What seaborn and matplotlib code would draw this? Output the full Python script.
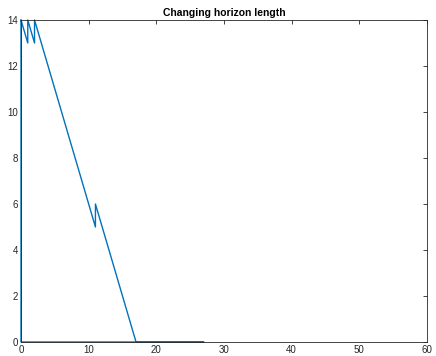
import matplotlib
matplotlib.use("Agg")
import matplotlib.pyplot as plt
import seaborn as sns
import pandas as pd

# path of horizon length (x = step, y = horizon)
steps = [0, 1, 1, 2, 2, 3, 4, 5, 6, 7, 8, 9, 10, 11, 11, 12, 13, 14, 15, 16, 17,
         18, 19, 20, 21, 22, 23, 24, 25, 26, 27, 0, 0]
horizon = [14, 13, 14, 13, 14, 13, 12, 11, 10, 9, 8, 7, 6, 5, 6, 5, 4, 3, 2, 1, 0,
           0, 0, 0, 0, 0, 0, 0, 0, 0, 0, 0, 14]
xticks = [0, 10, 20, 30, 40, 50, 60]
yticks = [0, 2, 4, 6, 8, 10, 12, 14]

sns.set_style("white")
plt.rcParams['font.family'] = ['Liberation Sans', 'DejaVu Sans']

df = pd.DataFrame({"step": steps, "horizon": horizon})

fig = plt.figure(figsize=(4.36, 3.56), dpi=100)
ax = fig.add_axes([21/436, 14/356, 406/436, 322/356])
sns.lineplot(data=df, x="step", y="horizon", sort=False, estimator=None,
             color="#0072BD", linewidth=1.0, ax=ax, clip_on=False)
ax.set_xlim(0, 60)
ax.set_ylim(0, 14)
ax.set_xticks(xticks)
ax.set_yticks(yticks)
ax.set_xlabel("")
ax.set_ylabel("")
ax.set_title("Changing horizon length", fontsize=7.5, fontweight="bold",
             color="black", pad=3)
for s in ax.spines.values():
    s.set_visible(True)
    s.set_color("#262626")
    s.set_linewidth(0.6)
ax.tick_params(direction="in", length=3, width=0.6, colors="#262626",
               labelsize=7, top=True, right=True, pad=2)
for lab in ax.get_xticklabels() + ax.get_yticklabels():
    lab.set_color("#262626")
fig.savefig("out.png", dpi=100)
